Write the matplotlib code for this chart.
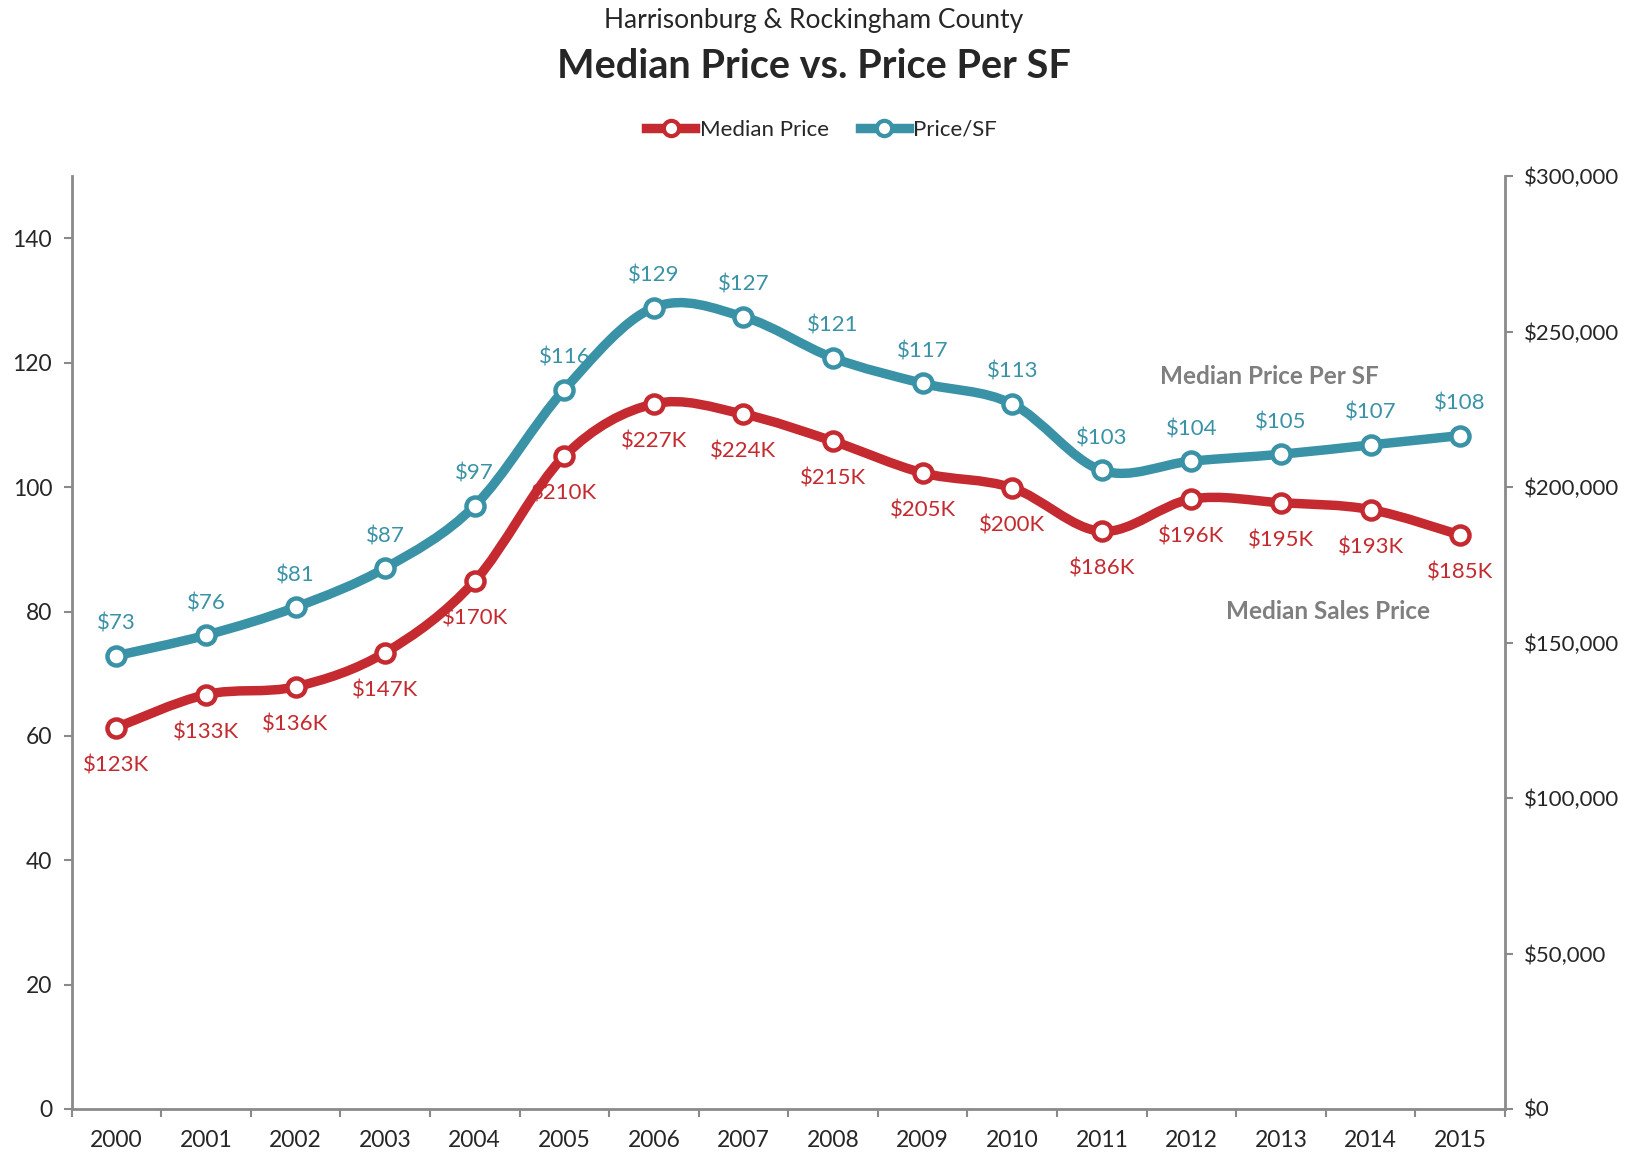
import matplotlib.pyplot as plt
import numpy as np
from matplotlib.path import Path
from matplotlib.patches import PathPatch
from matplotlib.lines import Line2D
from matplotlib.ticker import FuncFormatter

plt.rcParams['font.family'] = ['Lato', 'DejaVu Sans']

# data
years = [str(y) for y in range(2000, 2016)]
price_sf = [72.9, 76.2, 80.7, 87.0, 97.0, 115.7, 128.9, 127.4, 120.8, 116.7,
            113.4, 102.7, 104.2, 105.3, 106.8, 108.3]
median_price = [122700, 133300, 135800, 146800, 169800, 210000, 226800, 223500,
                214800, 204600, 199800, 185800, 196200, 195000, 192800, 184600]

RED = '#c42a2f'
BLUE = '#3a92a7'
AXIS = '#8a8a8a'
TXT = '#262626'


def smooth_path(xs, ys):
    # Excel-like smoothed line: cubic Bezier through the points
    p = np.column_stack([xs, ys]).astype(float)
    n = len(p)
    verts = [p[0]]
    codes = [Path.MOVETO]
    for i in range(n - 1):
        p0 = p[i - 1] if i > 0 else p[i]
        p3 = p[i + 2] if i + 2 < n else p[i + 1]
        c1 = p[i] + (p[i + 1] - p0) / 6.0
        c2 = p[i + 1] - (p3 - p[i]) / 6.0
        verts += [c1, c2, p[i + 1]]
        codes += [Path.CURVE4] * 3
    return Path(verts, codes)


fig = plt.figure(figsize=(16.27, 11.6), dpi=100)
ax = fig.add_axes([0.044, 0.044, 0.881, 0.804])
ax2 = ax.twinx()

x = np.arange(len(years))

# Price/SF on left axis
ax.add_patch(PathPatch(smooth_path(x, price_sf), fill=False, edgecolor=BLUE,
                       lw=6.8, capstyle='round', joinstyle='round', zorder=3))
ax.plot(x, price_sf, ls='none', marker='o', ms=13, mfc='white', mec=BLUE,
        mew=3.2, zorder=4)
for i, v in enumerate(price_sf):
    ax.annotate(f"${v:.0f}", (i, v), xytext=(0, 23), textcoords='offset points',
                ha='center', va='center', color=BLUE, fontsize=16, zorder=2)

# Median price on right axis
ax2.add_patch(PathPatch(smooth_path(x, median_price), fill=False, edgecolor=RED,
                        lw=6.8, capstyle='round', joinstyle='round', zorder=3))
ax2.plot(x, median_price, ls='none', marker='o', ms=13, mfc='white', mec=RED,
         mew=3.2, zorder=4)
for i, v in enumerate(median_price):
    ax2.annotate(f"${v / 1000:.0f}K", (i, v), xytext=(0, -27),
                 textcoords='offset points', ha='center', va='center',
                 color=RED, fontsize=16, zorder=2)

ax.text(12.87, 117.8, 'Median Price Per SF', ha='center', va='center',
        fontsize=17.5, fontweight='bold', color='#7f7f7f')
ax.text(13.53, 80.0, 'Median Sales Price', ha='center', va='center',
        fontsize=17.5, fontweight='bold', color='#7f7f7f')

# axes
ax.set_xlim(-0.5, len(years) - 0.5)
ax.set_ylim(0, 150)
ax2.set_ylim(0, 300000)
ax.set_yticks(np.arange(0, 141, 20))
ax2.set_yticks(np.arange(0, 300001, 50000))
ax2.yaxis.set_major_formatter(FuncFormatter(lambda v, p: f"${v:,.0f}"))

ax.set_xticks(np.arange(-0.5, len(years), 1))
ax.set_xticklabels([])
ax.set_xticks(x, minor=True)
ax.set_xticklabels(years, minor=True)
ax.tick_params(axis='x', which='major', length=6, width=1.5, color=AXIS)
ax.tick_params(axis='x', which='minor', length=0, pad=15, labelsize=16.5,
               labelcolor=TXT)
ax.tick_params(axis='y', length=6, width=1.5, color=AXIS, pad=8,
               labelsize=16.5, labelcolor=TXT)
ax2.tick_params(axis='y', length=6, width=1.5, color=AXIS, pad=8,
                labelsize=16, labelcolor=TXT)

for s in ['top', 'right']:
    ax.spines[s].set_visible(False)
for s in ['top', 'left', 'bottom']:
    ax2.spines[s].set_visible(False)
for a, s in [(ax, 'left'), (ax, 'bottom'), (ax2, 'right')]:
    a.spines[s].set_color(AXIS)
    a.spines[s].set_linewidth(2)

# titles and legend
fig.text(0.5, 0.982, 'Harrisonburg & Rockingham County', ha='center',
         va='center', fontsize=19, color=TXT)
fig.text(0.5, 0.943, 'Median Price vs. Price Per SF', ha='center',
         va='center', fontsize=28.5, fontweight='bold', color=TXT)

handles = [
    Line2D([], [], color=RED, lw=6.8, marker='o', ms=11, mfc='white', mec=RED,
           mew=3),
    Line2D([], [], color=BLUE, lw=6.8, marker='o', ms=11, mfc='white',
           mec=BLUE, mew=3),
]
fig.legend(handles, ['Median Price', 'Price/SF'], loc='center',
           bbox_to_anchor=(0.505, 0.888), ncol=2, frameon=False, fontsize=16,
           handlelength=2.2, handletextpad=0.2, columnspacing=1.4,
           labelcolor=TXT)

fig.savefig('out.png', dpi=100)
